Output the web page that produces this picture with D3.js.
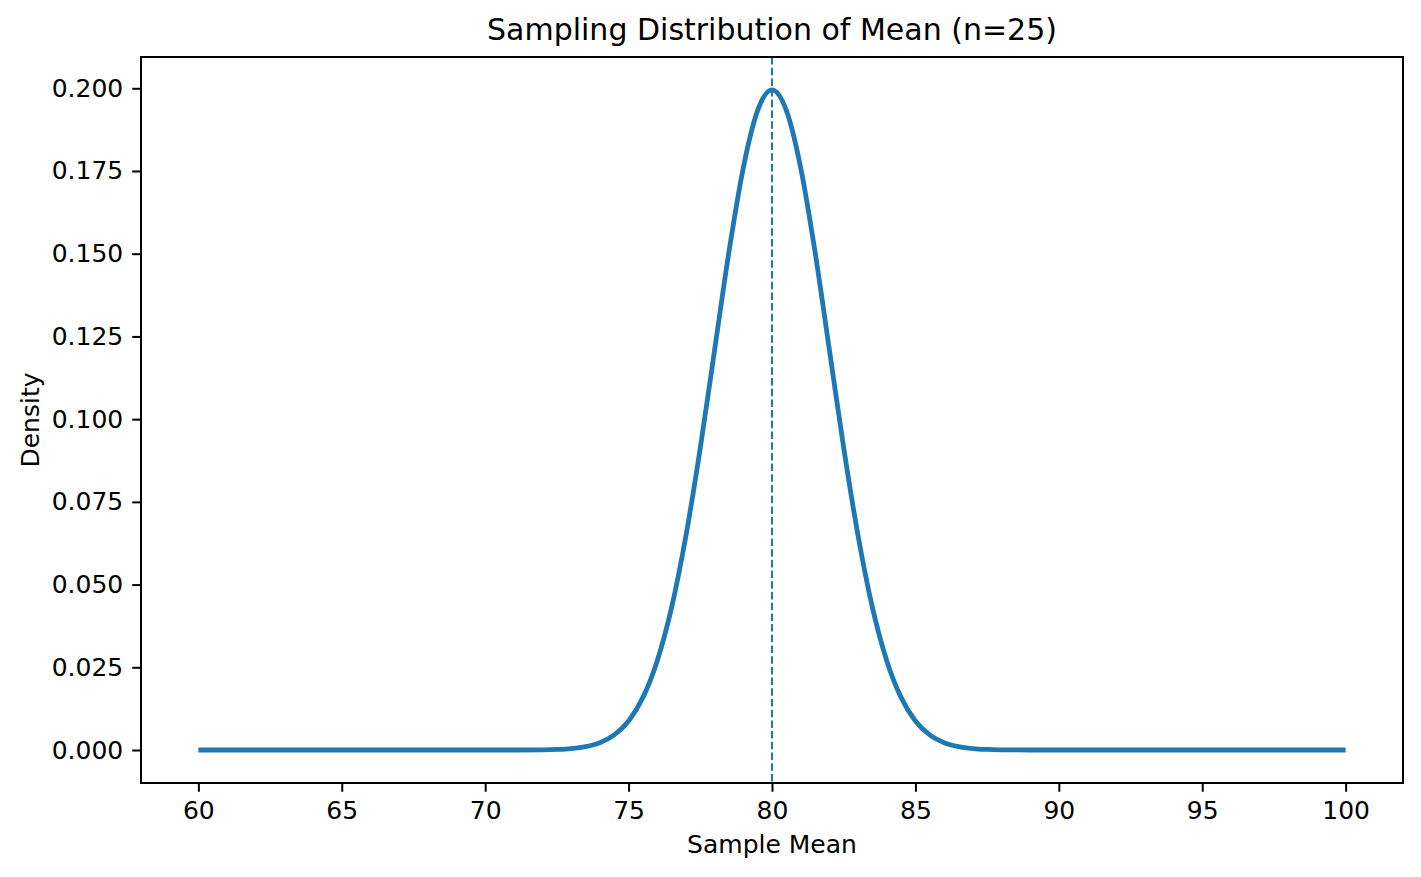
<!DOCTYPE html>
<html><head><meta charset="utf-8">
<script src="https://cdn.jsdelivr.net/npm/d3@7"></script>
<style>body{margin:0;background:#fff;} text{font-family:"DejaVu Sans",sans-serif;}</style>
</head><body>
<svg id="c" width="1421" height="877"></svg>
<script>
const xValues = [60,62,64,66,68,70,71,72,72.5,73,73.5,74,74.5,75,75.5,76,76.5,77,77.5,78,78.5,79,79.5,80,80.5,81,81.5,82,82.5,83,83.5,84,84.5,85,85.5,86,86.5,87,87.5,88,89,90,92,94,96,98,100];
const densityValues = [0,0,0,0,0,0.0000003,0.0000068,0.000067,0.00018,0.00044,0.00102,0.00222,0.00455,0.00876,0.0159,0.0270,0.0431,0.0648,0.0913,0.1210,0.1506,0.1760,0.1933,0.1995,0.1933,0.1760,0.1506,0.1210,0.0913,0.0648,0.0431,0.0270,0.0159,0.00876,0.00455,0.00222,0.00102,0.00044,0.00018,0.000067,0.0000068,0.0000003,0,0,0,0,0];
const xTicks = [60,65,70,75,80,85,90,95,100];
const yTicks = [0,0.025,0.05,0.075,0.1,0.125,0.15,0.175,0.2];
const meanValue = 80;
const titleText = "Sampling Distribution of Mean (n=25)";
const xLabel = "Sample Mean", yLabel = "Density";

const L=141,R=1403,T=57,B=783;
const svg=d3.select("#c");
const x=d3.scaleLinear().domain([58,102]).range([L,R]);
const y=d3.scaleLinear().domain([-0.00997,0.20945]).range([B,T]);
const data=xValues.map((v,i)=>[v,densityValues[i]]);

svg.append("path").datum(data).attr("fill","none").attr("stroke","#1f77b4").attr("stroke-width",4.8)
  .attr("stroke-linejoin","round").attr("stroke-linecap","butt")
  .attr("d",d3.line().x(d=>x(d[0])).y(d=>y(d[1])).curve(d3.curveMonotoneX));
svg.append("line").attr("x1",x(meanValue)).attr("x2",x(meanValue)).attr("y1",T).attr("y2",B)
  .attr("stroke","#1f77b4").attr("stroke-width",2).attr("stroke-dasharray","7.5,3.2");

const xa=svg.append("g").attr("transform",`translate(0,${B})`)
  .call(d3.axisBottom(x).tickValues(xTicks).tickFormat(d3.format("d")).tickSize(8.75).tickPadding(9));
const ya=svg.append("g").attr("transform",`translate(${L},0)`)
  .call(d3.axisLeft(y).tickValues(yTicks).tickFormat(d3.format(".3f")).tickSize(8.75).tickPadding(9));
[xa,ya].forEach(a=>{a.select(".domain").remove();a.selectAll("line").attr("stroke","#000").attr("stroke-width",2);
  a.selectAll("text").attr("font-size",25).attr("fill","#000").style("font-family","DejaVu Sans");});
svg.append("rect").attr("x",L).attr("y",T).attr("width",R-L).attr("height",B-T).attr("fill","none").attr("stroke","#000").attr("stroke-width",2);

svg.append("text").attr("x",(L+R)/2).attr("y",40).attr("text-anchor","middle").attr("font-size",30).text(titleText);
svg.append("text").attr("x",(L+R)/2).attr("y",853).attr("text-anchor","middle").attr("font-size",25).text(xLabel);
svg.append("text").attr("transform",`translate(39,${(T+B)/2}) rotate(-90)`).attr("text-anchor","middle").attr("font-size",25).text(yLabel);
</script>
</body></html>
